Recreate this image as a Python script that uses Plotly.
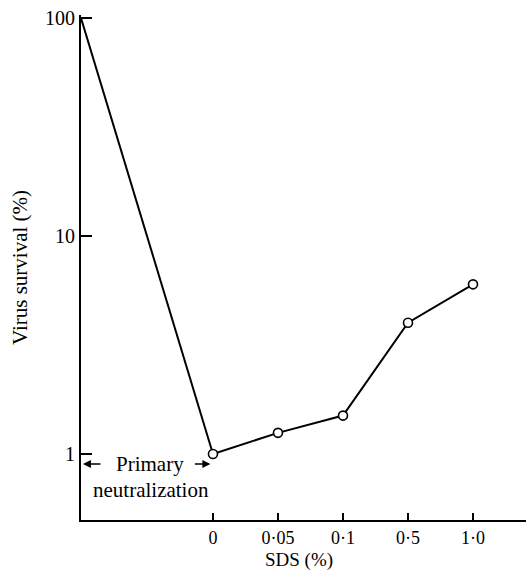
import plotly.graph_objects as go

# SDS concentrations (category labels) and virus survival after each treatment
sds_labels = ["0", "0·05", "0·1", "0·5", "1·0"]
survival = [1.0, 1.25, 1.5, 4.0, 6.0]

# Untreated virus starts at 100% survival, before primary neutralization
start_survival = 100.0
y_ticks = [1, 10, 100]

FONT = "'Liberation Serif', 'Times New Roman', serif"
X_LEFT = -2.03
X_RIGHT = 4.815

sds_x = list(range(len(sds_labels)))

fig = go.Figure()

# Primary neutralization drop: origin to the 0% SDS point
fig.add_trace(go.Scatter(
    x=[X_LEFT, sds_x[0]], y=[start_survival, survival[0]],
    mode="lines", line=dict(color="black", width=2),
    showlegend=False, hoverinfo="skip", cliponaxis=False,
))

# SDS series with open circle markers
fig.add_trace(go.Scatter(
    x=sds_x, y=survival, mode="lines+markers",
    line=dict(color="black", width=2),
    marker=dict(symbol="circle", size=9, color="white",
                line=dict(color="black", width=1.6)),
    showlegend=False, cliponaxis=False,
))

# "Primary neutralization" label with bracketing arrows
fig.add_annotation(x=-0.97, y=-0.046, text="Primary", showarrow=False,
                   font=dict(family=FONT, size=21, color="black"))
fig.add_annotation(x=-0.95, y=-0.165, text="neutralization", showarrow=False,
                   font=dict(family=FONT, size=21, color="black"))
fig.add_annotation(x=-2.0, y=-0.046, text="", showarrow=True, ax=19, ay=0,
                   arrowhead=2, arrowsize=1, arrowwidth=1.6, arrowcolor="black")
fig.add_annotation(x=-0.04, y=-0.046, text="", showarrow=True, ax=-17, ay=0,
                   arrowhead=2, arrowsize=1, arrowwidth=1.6, arrowcolor="black")

# x-axis title placed just under the tick labels
fig.add_annotation(xref="paper", yref="paper", x=0.49, y=0, yshift=-40,
                   xanchor="center", yanchor="middle", text="SDS (%)", showarrow=False,
                   font=dict(family=FONT, size=19, color="black"))

fig.update_xaxes(
    range=[X_LEFT, X_RIGHT], tickmode="array", tickvals=sds_x, ticktext=sds_labels,
    ticks="inside", ticklen=7, tickwidth=2, tickcolor="black",
    showline=True, linecolor="black", linewidth=2, showgrid=False, zeroline=False,
    tickfont=dict(family=FONT, size=18, color="black"),
)
fig.update_yaxes(
    type="log", range=[-0.303, 2.014], tickmode="array", tickvals=y_ticks,
    ticktext=[str(v) for v in y_ticks],
    ticks="inside", ticklen=11, tickwidth=2, tickcolor="black",
    showline=True, linecolor="black", linewidth=2, showgrid=False, zeroline=False,
    tickfont=dict(family=FONT, size=20, color="black"),
    title=dict(text="Virus survival (%)", font=dict(family=FONT, size=21, color="black"),
               standoff=12),
)

fig.update_layout(
    width=526, height=575,
    margin=dict(l=81, r=0, t=15, b=55),
    plot_bgcolor="white", paper_bgcolor="white",
)

fig.write_html("out.html")
